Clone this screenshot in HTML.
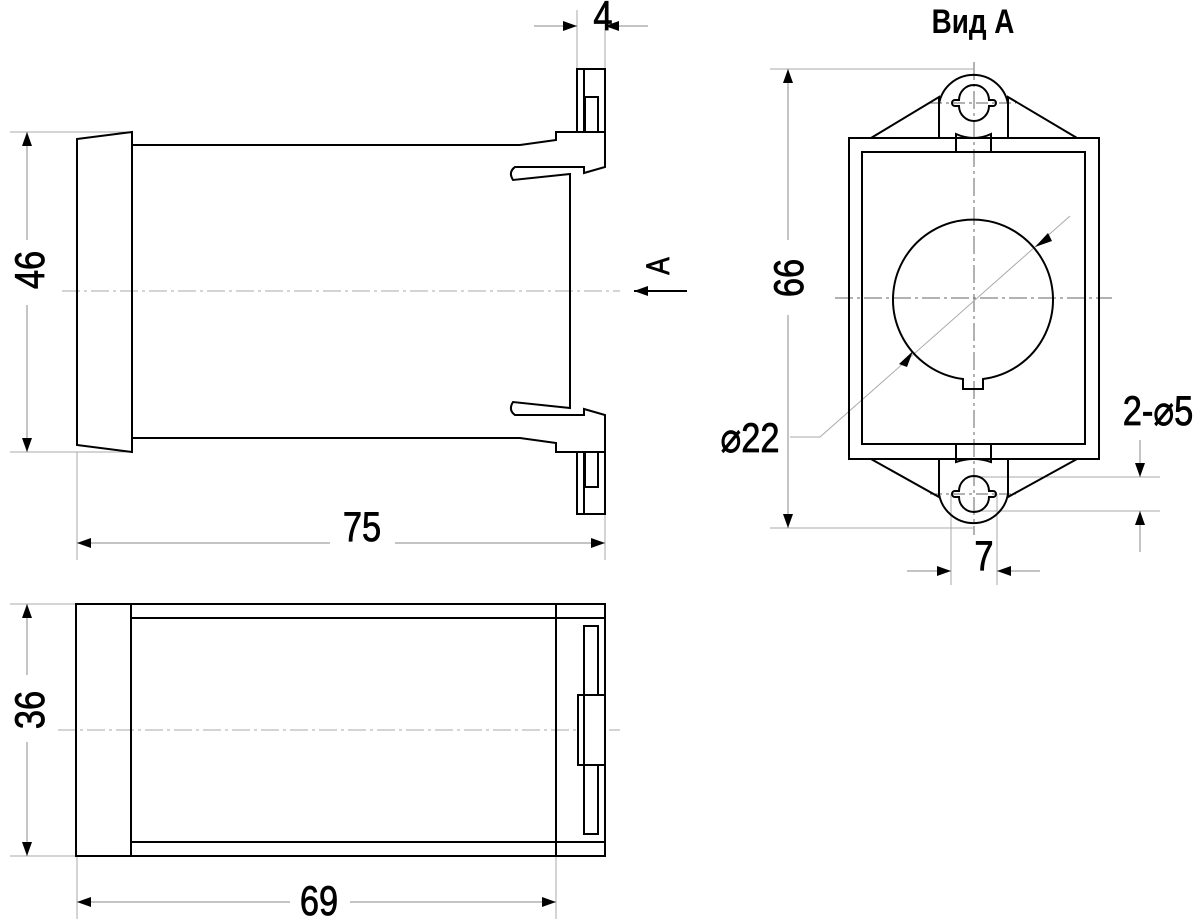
<!DOCTYPE html>
<html><head><meta charset="utf-8"><style>html,body{margin:0;padding:0;background:#fff}svg{display:block}</style></head><body>
<svg width="1200" height="919" viewBox="0 0 1200 919" xmlns="http://www.w3.org/2000/svg" font-family="Liberation Sans, sans-serif">
<defs>
<marker id="a" markerWidth="14" markerHeight="10" refX="14" refY="5" orient="auto-start-reverse" markerUnits="userSpaceOnUse"><path d="M0,0 L14,5 L0,10 Z" fill="#000"/></marker>
</defs>
<g fill="none" stroke="#aaa" stroke-width="1">
<line x1="62" y1="291" x2="620" y2="291" stroke-dasharray="18,4,3,4"/>
<line x1="58" y1="730" x2="620" y2="730" stroke-dasharray="18,4,3,4"/>
<line x1="835" y1="298" x2="1112" y2="298" stroke-dasharray="18,4,3,4" stroke="#666"/>
<line x1="974" y1="62" x2="974" y2="535" stroke-dasharray="18,4,3,4" stroke="#666"/>
<line x1="930" y1="103" x2="1016" y2="103" stroke-dasharray="12,4,3,4" stroke="#666"/>
<line x1="930" y1="494" x2="1016" y2="494" stroke-dasharray="12,4,3,4" stroke="#666"/>
<line x1="10" y1="132" x2="130" y2="132"/><line x1="10" y1="452" x2="130" y2="452"/>
<line x1="77" y1="452" x2="77" y2="560"/><line x1="605" y1="513" x2="605" y2="560"/>
<line x1="577" y1="10" x2="577" y2="69"/><line x1="605" y1="10" x2="605" y2="69"/>
<line x1="10" y1="604" x2="76" y2="604"/><line x1="10" y1="856" x2="76" y2="856"/>
<line x1="77" y1="856" x2="77" y2="919"/><line x1="556" y1="856" x2="556" y2="919"/>
<line x1="770" y1="69" x2="974" y2="69"/><line x1="770" y1="528" x2="974" y2="528"/>
<line x1="951" y1="494" x2="951" y2="585"/><line x1="997" y1="494" x2="997" y2="585"/>
<line x1="974" y1="477" x2="1160" y2="477"/><line x1="974" y1="511" x2="1160" y2="511"/>
<polyline points="1070,216 820,437 790,437"/>
</g>
<g stroke="#888" stroke-width="1" fill="none">
<line x1="27" y1="132" x2="27" y2="240" marker-start="url(#a)"/>
<line x1="27" y1="305" x2="27" y2="452" marker-end="url(#a)"/>
<line x1="77" y1="543" x2="330" y2="543" marker-start="url(#a)"/>
<line x1="395" y1="543" x2="605" y2="543" marker-end="url(#a)"/>
<line x1="534" y1="26" x2="577" y2="26" marker-end="url(#a)"/>
<line x1="648" y1="26" x2="605" y2="26" marker-end="url(#a)"/>
<line x1="27" y1="604" x2="27" y2="675" marker-start="url(#a)"/>
<line x1="27" y1="742" x2="27" y2="856" marker-end="url(#a)"/>
<line x1="77" y1="902" x2="290" y2="902" marker-start="url(#a)"/>
<line x1="350" y1="902" x2="556" y2="902" marker-end="url(#a)"/>
<line x1="788" y1="69" x2="788" y2="240" marker-start="url(#a)"/>
<line x1="788" y1="315" x2="788" y2="528" marker-end="url(#a)"/>
<line x1="907" y1="571" x2="951" y2="571" marker-end="url(#a)"/>
<line x1="1040" y1="571" x2="997" y2="571" marker-end="url(#a)"/>
<line x1="1140" y1="440" x2="1140" y2="477" marker-end="url(#a)"/>
<line x1="1140" y1="552" x2="1140" y2="511" marker-end="url(#a)"/>
<line x1="687" y1="291" x2="634" y2="291" stroke="#000" stroke-width="2" marker-end="url(#a)"/>
</g>
<path d="M1048,233 L1035,247 L1052,241 Z" fill="#000"/>
<path d="M899,364 L913,351 L907,367 Z" fill="#000"/>
<g fill="none" stroke="#000" stroke-width="2">
<path d="M77,139 L132,132 L132,452 L77,445 Z"/>
<path d="M132,145 L520,145 L556,140 L556,132 L605,132 L605,167 L584,173 L584,167 L515,167 Q508,172 513,180 L570,174 L570,408 L513,402 Q508,410 515,415 L584,415 L584,409 L605,415 L605,452 L556,452 L556,443 L520,438 L132,438"/>
<rect x="577" y="69" width="28" height="63"/><line x1="584" y1="69" x2="584" y2="132"/><rect x="585" y="97" width="13" height="35"/>
<rect x="577" y="452" width="28" height="62"/><line x1="584" y1="452" x2="584" y2="514"/><rect x="585" y="452" width="13" height="35"/>
<rect x="76" y="604" width="529" height="252"/>
<line x1="131" y1="604" x2="131" y2="856"/><line x1="556" y1="604" x2="556" y2="856"/>
<line x1="131" y1="618" x2="605" y2="618"/><line x1="131" y1="842" x2="605" y2="842"/>
<rect x="584" y="626" width="14" height="208" fill="#fff"/>
<rect x="578" y="695" width="27" height="70" fill="#fff"/>
<line x1="584" y1="695" x2="584" y2="765"/>
<rect x="849" y="138" width="250" height="321"/>
<rect x="862" y="152" width="223" height="292"/>
<path d="M871,138 L939,97 L939,138 M1008,138 L1008,97 L1077,138"/>
<path d="M939,104 A35,35 0 0 1 1008,104"/>
<path d="M871,459 L939,497 L939,459 M1008,459 L1008,497 L1077,459"/>
<path d="M939,494 A35,35 0 0 0 1008,494"/>
<path d="M956,152 L956,134 Q974,142 991,134 L991,152"/>
<path d="M956,444 L956,462 Q974,456 991,462 L991,444"/>
<path d="M959,100 A15,15 0 0 1 989,100 L993,100 A3,3 0 0 1 993,106 L989,106 A15,15 0 0 1 959,106 L955,106 A3,3 0 0 1 955,100 Z"/>
<path d="M959,491 A15,15 0 0 1 989,491 L993,491 A3,3 0 0 1 993,497 L989,497 A15,15 0 0 1 959,497 L955,497 A3,3 0 0 1 955,491 Z"/>
<path d="M963,379 A80,80 0 1 1 983,379 L983,389 L963,389 Z"/>
</g>
<g font-size="42" fill="#000" stroke="#000" stroke-width="0.8">
<text transform="translate(44,270) rotate(-90) scale(0.82,1)" text-anchor="middle">46</text>
<text transform="translate(362,541) scale(0.82,1)" text-anchor="middle">75</text>
<text transform="translate(603,30) scale(0.82,1)" text-anchor="middle">4</text>
<text transform="translate(44,710) rotate(-90) scale(0.82,1)" text-anchor="middle">36</text>
<text transform="translate(319,915) scale(0.82,1)" text-anchor="middle">69</text>
<text transform="translate(803,278) rotate(-90) scale(0.82,1)" text-anchor="middle">66</text>
<text transform="translate(984,570) scale(0.82,1)" text-anchor="middle">7</text>
<text transform="translate(750,452) scale(0.82,1)" text-anchor="middle">⌀22</text>
<text transform="translate(1158,425) scale(0.82,1)" text-anchor="middle">2-⌀5</text>
<text transform="translate(669,266) rotate(-90) scale(0.82,1)" text-anchor="middle" font-size="32">A</text>
<text transform="translate(973,33) scale(0.82,1)" text-anchor="middle" font-size="34" font-weight="bold" stroke-width="0">Вид А</text>
</g>
</svg>
</body></html>
